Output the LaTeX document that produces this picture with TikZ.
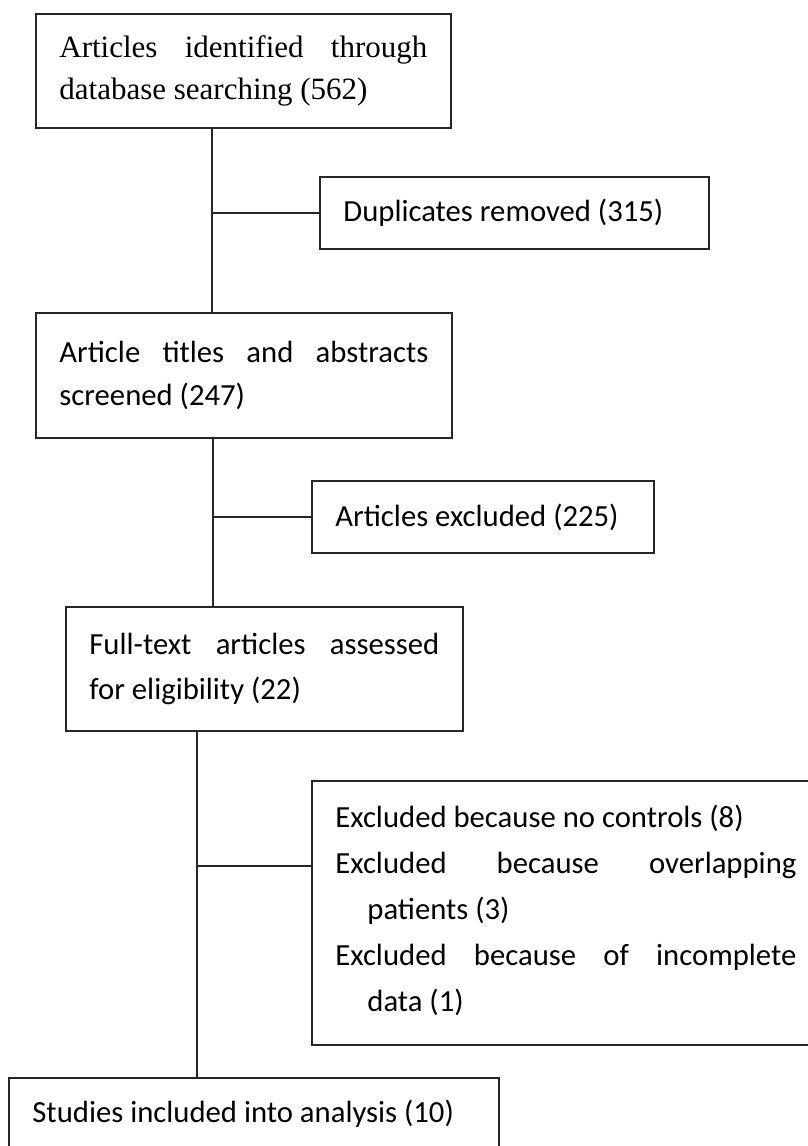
\documentclass[tikz,border=0pt]{standalone}
\usepackage{fontspec}
\setmainfont{Carlito}
\newfontfamily\timesfont{Liberation Serif}
\setlength{\parindent}{0pt}
\hyphenpenalty=10000
\tolerance=9999

\begin{document}
\begin{tikzpicture}[x=1pt, y=-1pt, line width=1.8pt,
	stage/.style={draw=black!85, rectangle, anchor=north west, inner xsep=23.5pt, inner ysep=0pt, align=justify, font=\fontsize{30.7}{45}\selectfont},
	link/.style={draw=black!85, line width=1.8pt}]
		\useasboundingbox (0,0) rectangle (807,1146);
		
		\node[stage, text width=368pt, minimum height=114pt, font=\timesfont\fontsize{31}{42}\selectfont] (id) at (35,13) {Articles identified through\linebreak database searching (562)};
		\node[stage, text width=342pt, minimum height=72pt] (dup) at (319,176) {Duplicates removed (315)};
		
		\node[stage, text width=369pt, minimum height=125pt, font=\fontsize{30.7}{43}\selectfont] (scr) at (35,312) {Article titles and abstracts\linebreak screened (247)};
		\node[stage, text width=295pt, minimum height=72pt] (exc) at (311,480) {Articles excluded (225)};
		
		\node[stage, text width=350pt, minimum height=124pt] (ft) at (65,606) {Full-text articles assessed\linebreak for eligibility (22)};
		\node[stage, text width=461pt, inner ysep=24pt, text depth=194pt, font=\fontsize{30.7}{46}\selectfont] (exf) at (311,780) {%
			\hangindent=32pt\hangafter=1 Excluded because no controls (8)\par
			\hangindent=32pt\hangafter=1 Excluded because overlapping\linebreak patients (3)\par
			\hangindent=32pt\hangafter=1 Excluded because of incomplete\linebreak data (1)\par};
		
		\node[stage, text width=443pt, minimum height=72pt] (inc) at (8,1077) {Studies included into analysis (10)};
		
		\coordinate (t1) at (212,0);
		\coordinate (t2) at (213,0);
		\coordinate (t3) at (197,866);
		
		\path[link] (id.south -| t1) -- (scr.north -| t1)
			(t1 |- dup.west) -- (dup.west)
			(scr.south -| t2) -- (ft.north -| t2)
			(t2 |- exc.west) -- (exc.west)
			(ft.south -| t3) -- (inc.north -| t3)
			(t3) -- (t3 -| exf.west);
	\end{tikzpicture}
\end{document}
